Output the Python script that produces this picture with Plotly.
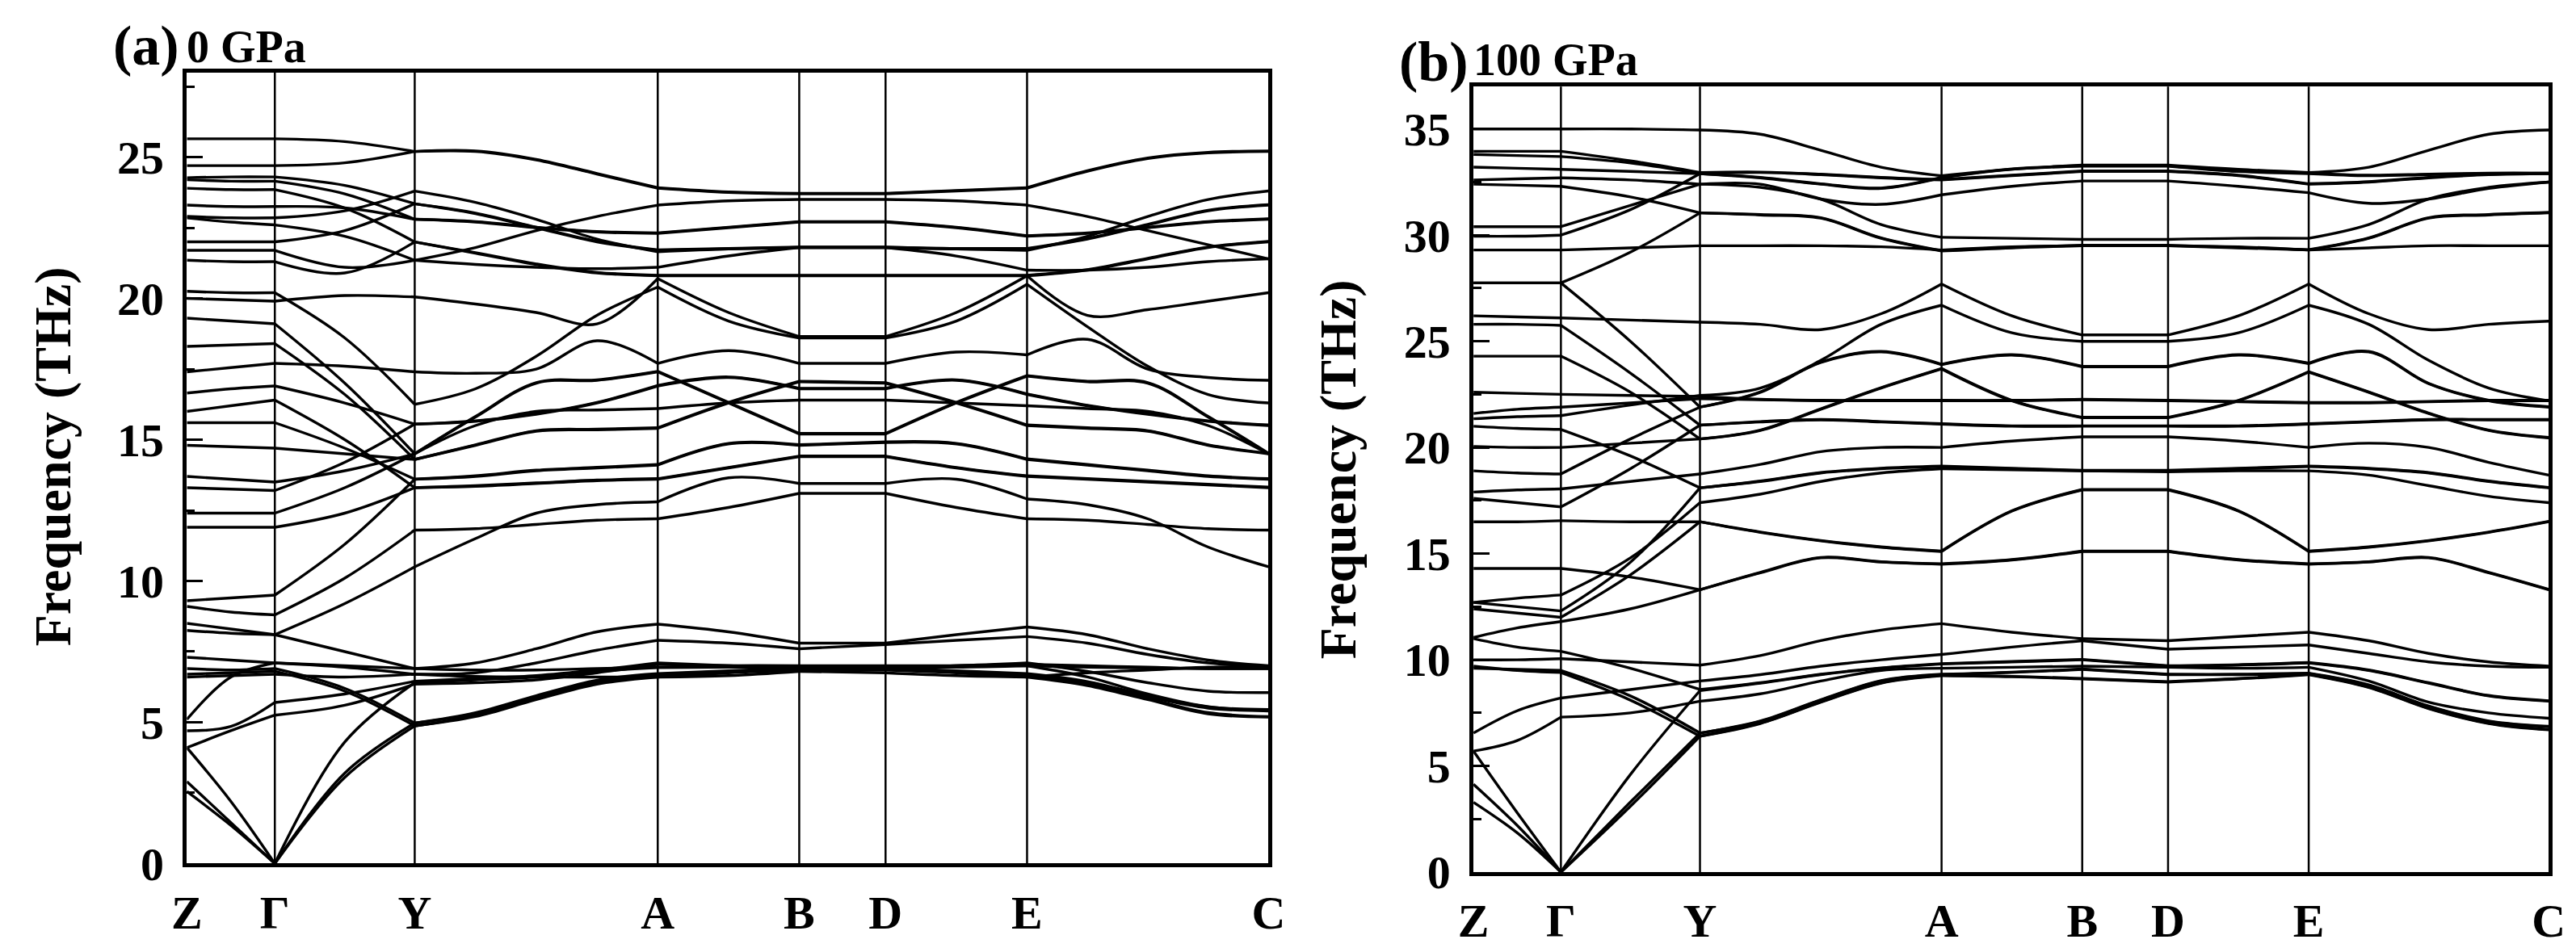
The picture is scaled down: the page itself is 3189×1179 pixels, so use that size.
import plotly.graph_objects as go

# high-symmetry path (same for both pressures), distances along the path
K_LABELS = ["Z", "Γ", "Y", "A", "B", "D", "E", "C"]
K_POS = [0, 110, 285, 589, 766, 874, 1051, 1353]

K_GRID = [0, 55, 110, 197.5, 285, 361, 437, 513, 589, 677.5,
          766, 874, 962.5, 1051, 1126.5, 1202, 1277.5, 1353]
# (first, last) index in K_GRID of each straight path segment
SEGMENTS = [(0, 2), (2, 4), (4, 8), (8, 10), (10, 11), (11, 13), (13, 17)]

# ---- (a) 0 GPa, frequencies in THz at K_GRID ----
A_LOW = [
    [2.55, 1.35, 0.0, 3.05, 4.87, 5.2, 5.8, 6.35, 6.6, 6.75, 6.85, 6.85, 6.75, 6.6, 6.3, 5.8, 5.3, 5.18],
    [2.9, 1.45, 0.0, 3.2, 4.97, 5.3, 5.9, 6.45, 6.7, 6.8, 6.9, 6.9, 6.8, 6.7, 6.4, 5.9, 5.5, 5.4],
    [4.1, 2.2, 0.0, 4.3, 6.4, 6.5, 6.6, 6.8, 6.93, 6.95, 6.95, 6.95, 6.95, 7.0, 6.6, 6.0, 5.55, 5.45],
    [4.1, 4.7, 5.25, 5.6, 6.35, 6.4, 6.5, 6.75, 7.05, 7.0, 6.95, 6.95, 7.0, 7.1, 6.8, 6.4, 6.1, 6.05],
    [4.7, 4.85, 5.7, 6.0, 6.45, 6.55, 6.65, 6.85, 7.1, 7.0, 6.9, 6.9, 7.0, 7.05, 7.0, 6.95, 6.9, 6.9],
    [6.6, 6.65, 6.7, 6.6, 6.7, 6.62, 6.6, 6.6, 6.6, 6.65, 6.8, 6.75, 6.65, 6.6, 6.75, 6.85, 6.95, 6.98],
    [6.7, 6.75, 6.8, 6.1, 4.87, 5.24, 5.84, 6.39, 6.62, 6.77, 6.87, 6.87, 6.77, 6.62, 6.34, 5.84, 5.34, 5.2],
    [6.9, 6.85, 6.9, 6.2, 4.97, 5.34, 5.94, 6.49, 6.72, 6.82, 6.92, 6.92, 6.82, 6.72, 6.44, 5.94, 5.54, 5.42],
    [5.1, 6.6, 7.1, 6.95, 6.7, 6.75, 7.1, 7.55, 7.9, 7.8, 7.6, 7.75, 7.9, 8.03, 7.8, 7.4, 7.1, 6.98],
    [7.3, 7.2, 7.1, 7.0, 6.9, 7.1, 7.6, 8.2, 8.47, 8.2, 7.8, 7.8, 8.1, 8.37, 8.1, 7.6, 7.2, 7.0],
    [8.25, 8.15, 8.1, 7.5, 6.9, 6.85, 6.85, 6.9, 6.95, 7.0, 7.0, 7.0, 7.0, 7.0, 6.95, 6.92, 6.9, 6.9],
]
A_MID = [
    [8.5, 8.3, 8.1, 9.2, 10.5, 11.5, 12.4, 12.7, 12.8, 13.65, 13.45, 13.45, 13.6, 12.9, 12.7, 12.2, 11.2, 10.5],
    [9.1, 8.9, 8.8, 10.1, 11.8, 11.85, 12.0, 12.15, 12.2, 12.6, 13.1, 13.1, 12.6, 12.2, 12.15, 12.0, 11.85, 11.8],
    [9.3, 9.4, 9.5, 11.3, 13.6, 13.7, 13.9, 14.0, 14.1, 14.85, 14.8, 14.9, 14.85, 14.3, 14.1, 13.9, 13.7, 13.6],
    [11.9, 11.9, 11.9, 12.4, 13.3, 13.35, 13.45, 13.55, 13.6, 14.0, 14.4, 14.4, 14.0, 13.7, 13.6, 13.5, 13.4, 13.3],
    [12.4, 12.4, 12.4, 13.3, 14.5, 15.8, 17.0, 17.1, 17.4, 16.3, 15.2, 15.2, 16.3, 17.25, 17.05, 17.0, 15.8, 14.5],
    [13.3, 13.25, 13.2, 14.2, 15.55, 15.65, 15.9, 16.3, 16.9, 17.2, 16.8, 16.8, 17.1, 16.6, 16.2, 15.9, 15.65, 15.5],
    [13.7, 13.6, 13.5, 13.9, 14.5, 15.5, 16.0, 16.05, 16.1, 16.3, 16.4, 16.4, 16.3, 16.2, 16.1, 16.0, 15.5, 14.5],
    [14.8, 14.75, 14.7, 14.5, 14.3, 14.8, 15.3, 15.35, 15.4, 16.3, 17.05, 17.0, 16.3, 15.5, 15.4, 15.3, 14.8, 14.5],
    [15.6, 15.6, 15.6, 14.7, 13.6, 13.72, 13.92, 14.02, 14.12, 14.87, 14.82, 14.92, 14.87, 14.32, 14.12, 13.92, 13.72, 13.62],
    [16.0, 16.2, 16.4, 15.0, 13.3, 13.37, 13.47, 13.57, 13.62, 14.02, 14.42, 14.42, 14.02, 13.72, 13.62, 13.52, 13.42, 13.32],
    [16.65, 16.8, 16.9, 16.3, 15.55, 15.67, 15.92, 16.32, 16.92, 17.22, 16.82, 16.82, 17.12, 16.62, 16.22, 15.92, 15.67, 15.52],
    [17.4, 17.55, 17.7, 17.6, 17.4, 17.35, 17.5, 18.5, 17.7, 18.15, 17.7, 17.7, 18.1, 18.0, 18.55, 17.5, 17.2, 17.1],
    [18.3, 18.35, 18.4, 16.6, 14.3, 14.82, 15.32, 15.37, 15.42, 16.32, 17.07, 17.02, 16.32, 15.52, 15.42, 15.32, 14.82, 14.52],
    [19.3, 19.2, 19.1, 17.0, 14.5, 15.82, 17.02, 17.12, 17.42, 16.32, 15.22, 15.22, 16.32, 17.27, 17.07, 17.02, 15.82, 14.52],
]
A_HIGH = [
    [20.0, 19.95, 19.9, 20.1, 20.05, 19.8, 19.5, 19.1, 20.7, 19.5, 18.65, 18.65, 19.5, 20.8, 19.4, 19.6, 19.9, 20.2],
    [20.25, 20.2, 20.2, 18.6, 16.25, 16.8, 17.95, 19.4, 20.4, 19.2, 18.6, 18.6, 19.2, 20.5, 19.0, 17.6, 16.6, 16.3],
    [21.35, 21.3, 21.3, 20.9, 22.0, 21.6, 21.2, 20.9, 20.8, 20.8, 20.8, 20.8, 20.8, 20.8, 21.0, 21.4, 21.8, 22.0],
    [21.7, 21.7, 21.7, 21.1, 21.35, 21.2, 21.1, 21.05, 21.1, 21.5, 21.8, 21.8, 21.5, 21.0, 21.0, 21.1, 21.3, 21.4],
    [22.0, 22.0, 22.0, 22.4, 23.35, 23.0, 22.5, 22.0, 21.7, 21.75, 21.8, 21.8, 21.75, 21.75, 22.1, 22.6, 23.1, 23.3],
    [22.85, 22.7, 22.6, 22.2, 21.35, 21.8, 22.4, 22.9, 23.3, 23.45, 23.5, 23.5, 23.45, 23.3, 22.9, 22.4, 21.9, 21.4],
    [22.9, 22.85, 22.85, 23.1, 23.8, 23.4, 22.8, 22.1, 21.65, 21.75, 21.8, 21.8, 21.75, 21.7, 22.2, 22.9, 23.5, 23.8],
    [23.3, 23.25, 23.25, 23.2, 22.8, 22.7, 22.5, 22.35, 22.3, 22.5, 22.7, 22.7, 22.5, 22.2, 22.3, 22.5, 22.7, 22.8],
    [23.9, 23.85, 23.85, 23.2, 22.0, 21.62, 21.22, 20.92, 20.82, 20.82, 20.82, 20.82, 20.82, 20.82, 21.02, 21.42, 21.82, 22.02],
    [24.2, 24.15, 24.15, 23.7, 22.8, 22.72, 22.52, 22.37, 22.32, 22.52, 22.72, 22.72, 22.52, 22.22, 22.32, 22.52, 22.72, 22.82],
    [24.27, 24.3, 24.3, 24.0, 23.35, 23.02, 22.52, 22.02, 21.72, 21.77, 21.82, 21.82, 21.77, 21.77, 22.12, 22.62, 23.12, 23.32],
    [24.7, 24.7, 24.7, 24.8, 25.2, 25.22, 24.92, 24.42, 23.92, 23.77, 23.72, 23.72, 23.82, 23.92, 24.52, 24.97, 25.17, 25.22],
    [25.65, 25.65, 25.65, 25.55, 25.2, 25.2, 24.9, 24.4, 23.9, 23.75, 23.7, 23.7, 23.8, 23.9, 24.5, 24.95, 25.15, 25.2],
]

# ---- (b) 100 GPa ----
B_LOW = [
    [3.29, 1.85, 0.0, 3.1, 6.4, 7.0, 8.0, 8.9, 9.25, 9.2, 9.1, 8.95, 9.1, 9.3, 8.7, 7.7, 7.0, 6.7],
    [4.14, 2.2, 0.0, 3.3, 6.55, 7.1, 8.1, 9.0, 9.3, 9.4, 9.55, 9.3, 9.3, 9.35, 8.8, 7.8, 7.1, 6.85],
    [5.7, 2.8, 0.0, 4.6, 8.55, 8.9, 9.3, 9.6, 9.8, 9.9, 10.0, 9.7, 9.75, 9.85, 9.5, 8.9, 8.3, 8.05],
    [5.7, 6.2, 7.3, 7.5, 8.05, 8.4, 9.0, 9.5, 9.6, 9.65, 9.7, 9.65, 9.6, 9.65, 9.0, 8.0, 7.5, 7.25],
    [6.55, 7.6, 8.2, 8.6, 9.0, 9.3, 9.7, 10.0, 10.25, 10.6, 10.9, 10.5, 10.6, 10.7, 10.3, 9.9, 9.7, 9.65],
    [9.6, 9.55, 9.5, 8.3, 6.55, 7.12, 8.12, 9.02, 9.32, 9.42, 9.57, 9.32, 9.32, 9.37, 8.82, 7.82, 7.12, 6.87],
    [9.7, 9.5, 9.4, 8.1, 6.4, 7.02, 8.02, 8.92, 9.27, 9.22, 9.12, 8.97, 9.12, 9.32, 8.72, 7.72, 7.02, 6.72],
    [10.0, 10.0, 10.05, 9.9, 9.75, 10.2, 10.9, 11.4, 11.7, 11.3, 11.0, 10.9, 11.1, 11.3, 10.9, 10.3, 9.9, 9.7],
    [11.0, 10.6, 10.4, 9.6, 8.6, 8.92, 9.32, 9.62, 9.82, 9.92, 10.02, 9.72, 9.77, 9.87, 9.52, 8.92, 8.32, 8.07],
]
B_MID = [
    [11.05, 11.5, 11.8, 12.4, 13.3, 14.1, 14.8, 14.6, 14.5, 14.7, 15.1, 15.1, 14.7, 14.5, 14.6, 14.8, 14.1, 13.3],
    [12.4, 12.2, 12.0, 14.0, 16.5, 16.0, 15.6, 15.3, 15.1, 17.0, 18.0, 18.0, 17.0, 15.1, 15.3, 15.6, 16.0, 16.5],
    [12.7, 12.5, 12.3, 14.6, 18.1, 18.4, 18.8, 19.0, 19.1, 19.0, 18.9, 18.9, 19.0, 19.1, 19.0, 18.8, 18.4, 18.1],
    [12.7, 12.9, 13.05, 14.8, 17.4, 17.8, 18.4, 18.8, 19.0, 18.95, 18.9, 18.85, 18.9, 18.9, 18.7, 18.2, 17.7, 17.4],
    [14.3, 14.3, 14.3, 13.9, 13.3, 14.12, 14.82, 14.62, 14.52, 14.72, 15.12, 15.12, 14.72, 14.52, 14.62, 14.82, 14.12, 13.32],
    [16.5, 16.5, 16.55, 16.5, 16.5, 16.02, 15.62, 15.32, 15.12, 17.02, 18.02, 18.02, 17.02, 15.12, 15.32, 15.62, 16.02, 16.52],
    [17.6, 17.4, 17.2, 19.0, 21.05, 21.2, 21.3, 21.2, 21.1, 21.0, 21.0, 21.0, 21.0, 21.1, 21.2, 21.3, 21.3, 21.3],
    [17.9, 18.0, 18.05, 18.4, 18.75, 19.2, 19.8, 20.0, 20.0, 20.3, 20.5, 20.5, 20.3, 20.0, 20.2, 20.0, 19.3, 18.7],
    [18.9, 18.8, 18.75, 20.4, 21.9, 22.6, 24.0, 24.5, 23.9, 24.35, 23.8, 23.8, 24.35, 23.95, 24.5, 23.0, 22.2, 21.9],
    [20.05, 20.0, 20.0, 20.2, 20.4, 20.8, 21.8, 22.8, 23.7, 22.2, 21.4, 21.4, 22.2, 23.55, 22.6, 21.6, 20.8, 20.45],
    [21.0, 20.9, 20.85, 19.6, 18.1, 18.42, 18.82, 19.02, 19.12, 19.02, 18.92, 18.92, 19.02, 19.12, 19.02, 18.82, 18.42, 18.12],
    [21.35, 21.45, 21.5, 22.0, 22.45, 22.8, 24.1, 25.8, 26.7, 25.4, 25.0, 25.0, 25.4, 26.7, 25.8, 24.1, 22.8, 22.2],
    [21.6, 21.8, 21.9, 22.1, 22.3, 22.25, 22.2, 22.2, 22.2, 22.2, 22.25, 22.2, 22.15, 22.1, 22.1, 22.15, 22.2, 22.2],
    [22.6, 22.55, 22.5, 22.45, 22.4, 22.27, 22.22, 22.22, 22.22, 22.22, 22.27, 22.22, 22.17, 22.12, 22.12, 22.17, 22.22, 22.22],
    [24.3, 24.3, 24.3, 22.6, 20.4, 20.82, 21.82, 22.82, 23.72, 22.22, 21.42, 21.42, 22.22, 23.57, 22.62, 21.62, 20.82, 20.47],
    [25.8, 25.8, 25.75, 23.5, 21.05, 21.22, 21.32, 21.22, 21.12, 21.02, 21.02, 21.02, 21.02, 21.12, 21.22, 21.32, 21.32, 21.32],
    [26.2, 26.15, 26.1, 26.0, 25.9, 25.8, 25.55, 26.3, 27.7, 26.2, 25.3, 25.3, 26.2, 27.7, 26.3, 25.55, 25.8, 25.95],
    [27.75, 27.75, 27.75, 25.0, 21.9, 22.62, 24.02, 24.52, 23.92, 24.37, 23.82, 23.82, 24.37, 23.97, 24.52, 23.02, 22.22, 21.92],
]
B_HIGH = [
    [27.75, 27.75, 27.75, 29.2, 31.05, 30.95, 30.8, 29.85, 29.25, 29.4, 29.5, 29.5, 29.4, 29.3, 29.85, 30.8, 30.95, 31.05],
    [29.3, 29.3, 29.3, 29.4, 29.5, 29.5, 29.5, 29.45, 29.3, 29.45, 29.5, 29.5, 29.45, 29.3, 29.4, 29.5, 29.5, 29.5],
    [29.95, 29.95, 30.0, 31.2, 32.9, 32.7, 32.4, 32.2, 32.7, 33.1, 33.25, 33.25, 33.0, 32.9, 32.8, 32.85, 32.9, 32.9],
    [30.4, 30.4, 30.4, 31.4, 32.4, 32.4, 31.7, 31.45, 31.9, 32.3, 32.55, 32.55, 32.3, 32.0, 31.5, 31.7, 32.2, 32.5],
    [32.4, 32.35, 32.3, 31.8, 31.05, 30.97, 30.82, 29.87, 29.27, 29.42, 29.52, 29.52, 29.42, 29.32, 29.87, 30.82, 30.97, 31.07],
    [32.6, 32.65, 32.7, 32.6, 32.4, 32.25, 31.7, 30.5, 29.9, 29.85, 29.8, 29.8, 29.85, 29.85, 30.5, 31.7, 32.25, 32.5],
    [33.2, 33.15, 33.1, 33.0, 32.9, 32.95, 32.85, 32.7, 32.6, 32.8, 33.0, 33.0, 32.8, 32.4, 32.5, 32.7, 32.85, 32.9],
    [33.95, 33.95, 33.95, 33.5, 32.95, 32.97, 32.87, 32.72, 32.62, 32.82, 33.02, 33.02, 32.82, 32.42, 32.52, 32.72, 32.87, 32.92],
    [33.8, 33.75, 33.7, 33.4, 32.9, 32.72, 32.42, 32.22, 32.72, 33.12, 33.27, 33.27, 33.02, 32.92, 32.82, 32.87, 32.92, 32.92],
    [35.0, 35.0, 35.0, 35.0, 34.95, 34.75, 34.0, 33.2, 32.8, 33.1, 33.3, 33.3, 33.1, 32.95, 33.2, 34.0, 34.75, 34.95],
]

FONT = "Liberation Serif"


def band_xy(bands):
    xs, ys = [], []
    for band in bands:
        for i0, i1 in SEGMENTS:
            xs += K_GRID[i0:i1 + 1] + [None]
            ys += band[i0:i1 + 1] + [None]
    return xs, ys


fig = go.Figure()

for bands, xa, ya in [(A_LOW + A_MID + A_HIGH, "x", "y"),
                      (B_LOW + B_MID + B_HIGH, "x2", "y2")]:
    xs, ys = band_xy(bands)
    fig.add_trace(go.Scatter(x=xs, y=ys, mode="lines", xaxis=xa, yaxis=ya,
                             line=dict(color="black", width=3.4, shape="spline", smoothing=1),
                             hoverinfo="skip", showlegend=False))

# vertical lines at the inner high-symmetry points
for xa, ya in [("x", "y"), ("x2", "y2")]:
    for k in K_POS[1:-1]:
        fig.add_shape(type="line", x0=k, x1=k, y0=0, y1=1, xref=xa, yref=ya + " domain",
                      line=dict(color="black", width=2.5))

xaxis_style = dict(
    range=[0, K_POS[-1]], showline=True, mirror=True, linewidth=4.5, linecolor="black",
    tickvals=K_POS, ticktext=["<b>%s</b>" % s for s in K_LABELS],
    tickfont=dict(family=FONT, size=58, color="black"),
    ticks="outside", ticklen=6, tickcolor="rgba(0,0,0,0)",
    showgrid=False, zeroline=False,
)


def yaxis_style(top, majors):
    minors = [m + 2.5 for m in majors]
    return dict(
        range=[0, top], showline=True, mirror=True, linewidth=4.5, linecolor="black",
        tickvals=majors, ticktext=["<b>%d</b>" % v for v in majors],
        tickfont=dict(family=FONT, size=58, color="black"),
        ticks="inside", ticklen=20, tickwidth=3, tickcolor="black",
        ticklabelstandoff=12,
        minor=dict(tickvals=minors, ticks="inside", ticklen=10, tickwidth=3, tickcolor="black"),
        showgrid=False, zeroline=False,
    )


fig.update_layout(
    width=3189, height=1179,
    margin=dict(l=0, r=0, t=0, b=0),
    paper_bgcolor="white", plot_bgcolor="white",
    xaxis=dict(domain=[0.0649, 0.4901], anchor="y", **xaxis_style),
    yaxis=dict(domain=[0.0738, 0.9288], anchor="x", **yaxis_style(28, [0, 5, 10, 15, 20, 25])),
    xaxis2=dict(domain=[0.5707, 0.9934], anchor="y2", **xaxis_style),
    yaxis2=dict(domain=[0.0645, 0.9135], anchor="x2", **yaxis_style(37, [0, 5, 10, 15, 20, 25, 30, 35])),
)

labels = [
    ("<b>(a)</b>", 0.0351, 0.9576, 70),
    ("<b>0 GPa</b>", 0.0643, 0.9560, 56),
    ("<b>(b)</b>", 0.5409, 0.9406, 70),
    ("<b>100 GPa</b>", 0.5701, 0.9420, 56),
]
for text, x, y, size in labels:
    fig.add_annotation(text=text, x=x, y=y, xref="paper", yref="paper",
                       xanchor="left", yanchor="middle", showarrow=False,
                       font=dict(family=FONT, size=size, color="black"))

for x, y in [(0.0125, 0.514), (0.5174, 0.50)]:
    fig.add_annotation(text="<b>Frequency (THz)</b>", x=x, y=y, xref="paper", yref="paper",
                       xanchor="center", yanchor="middle", textangle=-90, showarrow=False,
                       font=dict(family=FONT, size=64, color="black"))

fig.write_html("out.html")
